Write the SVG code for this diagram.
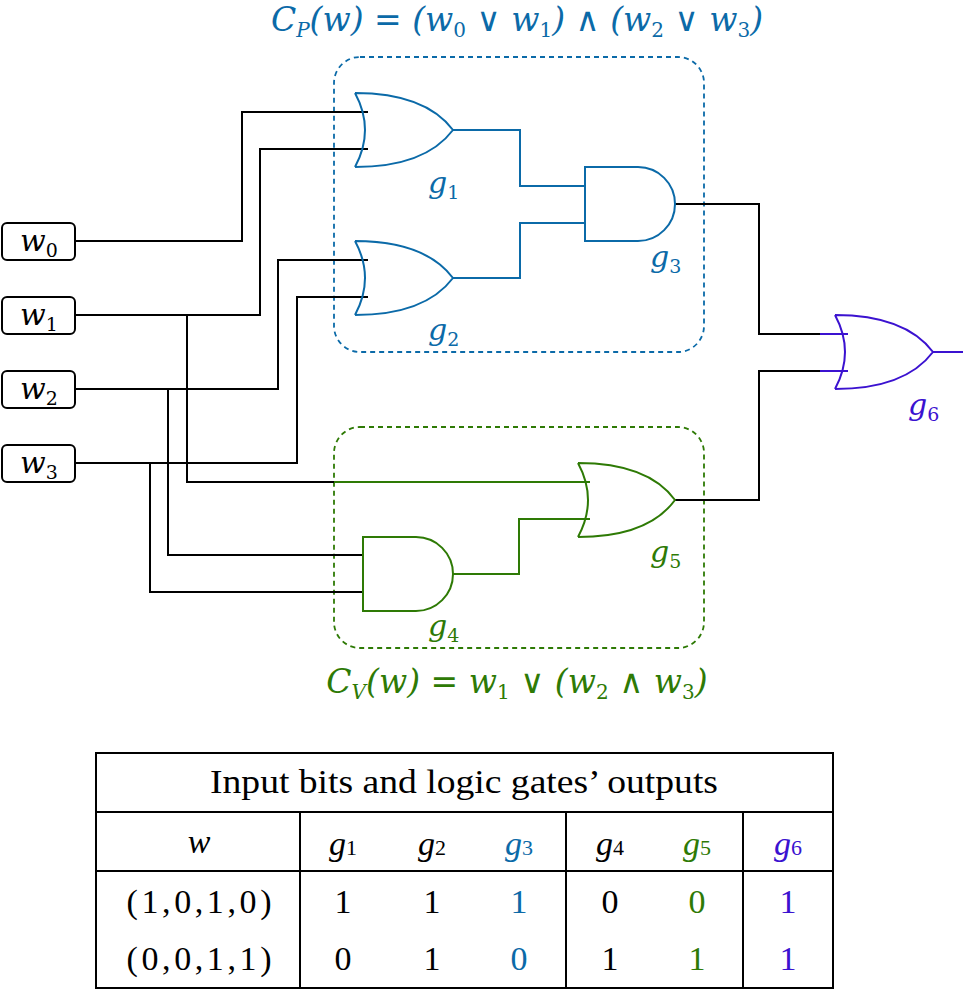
<svg xmlns="http://www.w3.org/2000/svg" width="963" height="990" viewBox="0 0 963 990">
<style>
.w{fill:none;stroke:#000;stroke-width:2}
.b{fill:none;stroke:#0b6aa8;stroke-width:2}
.g{fill:none;stroke:#2e7a05;stroke-width:2}
.p{fill:none;stroke:#3b12d0;stroke-width:2}
.m{font-family:"DejaVu Serif",serif;font-style:italic;font-size:30px}
.h{font-size:33px}
.t{font-family:"Liberation Serif",serif;font-size:34px;text-anchor:middle}
.bc{fill:#0b6aa8}.gc{fill:#2e7a05}.pc{fill:#3b12d0}
.box{fill:#fff;stroke:#000;stroke-width:2}
</style>
<text class="m h bc" x="517" y="31" text-anchor="middle">C<tspan font-size="20" dy="6">P</tspan><tspan dy="-6">(w) = (w</tspan><tspan font-size="20" dy="6" font-style="normal">0</tspan><tspan dy="-6"> ∨ w</tspan><tspan font-size="20" dy="6" font-style="normal">1</tspan><tspan dy="-6">) ∧ (w</tspan><tspan font-size="20" dy="6" font-style="normal">2</tspan><tspan dy="-6"> ∨ w</tspan><tspan font-size="20" dy="6" font-style="normal">3</tspan><tspan dy="-6">)</tspan></text>
<text class="m h gc" x="517" y="693" text-anchor="middle">C<tspan font-size="20" dy="6">V</tspan><tspan dy="-6">(w) = w</tspan><tspan font-size="20" dy="6" font-style="normal">1</tspan><tspan dy="-6"> ∨ (w</tspan><tspan font-size="20" dy="6" font-style="normal">2</tspan><tspan dy="-6"> ∧ w</tspan><tspan font-size="20" dy="6" font-style="normal">3</tspan><tspan dy="-6">)</tspan></text>
<rect x="334" y="57" width="370" height="295" rx="26" fill="none" stroke="#0b6aa8" stroke-width="1.8" stroke-dasharray="5,4"/>
<rect x="334" y="427" width="370" height="221" rx="26" fill="none" stroke="#2e7a05" stroke-width="1.8" stroke-dasharray="5,4"/>
<g id="connectors">
<path class="w" d="M75,241H242V112H368"/>
<path class="w" d="M75,315H260V149H368"/>
<path class="w" d="M75,389H278V260H368"/>
<path class="w" d="M75,463H297V297H368"/>
<path class="w" d="M187,315V482H334"/>
<path class="g" d="M334,482H590"/>
<path class="w" d="M168,389V555H363"/>
<path class="w" d="M150,463V592H363"/>
<path class="b" d="M453,130H520V186H585"/>
<path class="b" d="M453,278H520V223H585"/>
<path class="g" d="M453,574H519V519H590"/>
<path class="w" d="M675,204H759V334H820"/>
<path class="w" d="M675,500H759V371H820"/>
<path class="p" d="M820,334H848M820,371H848M933,352H963"/>
</g>
<g id="w0"><rect class="box" x="2" y="223" width="73" height="37" rx="5"/><text class="m" x="20" y="251">w<tspan font-size="19" dy="6" font-style="normal">0</tspan></text></g>
<g id="w1"><rect class="box" x="2" y="297" width="73" height="37" rx="5"/><text class="m" x="20" y="325">w<tspan font-size="19" dy="6" font-style="normal">1</tspan></text></g>
<g id="w2"><rect class="box" x="2" y="371" width="73" height="37" rx="5"/><text class="m" x="20" y="399">w<tspan font-size="19" dy="6" font-style="normal">2</tspan></text></g>
<g id="w3"><rect class="box" x="2" y="445" width="73" height="37" rx="5"/><text class="m" x="20" y="473">w<tspan font-size="19" dy="6" font-style="normal">3</tspan></text></g>
<g id="g1"><path class="b" d="M355,93Q375,130 355,167M355,93Q425,93 453,130Q425,167 355,167"/><text class="m bc" x="428" y="193">g<tspan font-size="19" dy="6" font-style="normal">1</tspan></text></g>
<g id="g2"><path class="b" d="M355,241Q375,278 355,315M355,241Q425,241 453,278Q425,315 355,315"/><text class="m bc" x="428" y="340">g<tspan font-size="19" dy="6" font-style="normal">2</tspan></text></g>
<g id="g3"><path class="b" d="M585,167H638A37,37 0 0 1 638,241H585Z"/><text class="m bc" x="650" y="267">g<tspan font-size="19" dy="6" font-style="normal">3</tspan></text></g>
<g id="g4"><path class="g" d="M363,537H416A37,37 0 0 1 416,611H363Z"/><text class="m gc" x="428" y="636">g<tspan font-size="19" dy="6" font-style="normal">4</tspan></text></g>
<g id="g5"><path class="g" d="M578,463Q598,500 578,537M578,463Q648,463 675,500Q648,537 578,537"/><text class="m gc" x="650" y="562">g<tspan font-size="19" dy="6" font-style="normal">5</tspan></text></g>
<g id="g6"><path class="p" d="M835,315Q855,352 835,389M835,315Q905,315 933,352Q905,389 835,389"/><text class="m pc" x="908" y="415">g<tspan font-size="19" dy="6" font-style="normal">6</tspan></text></g>
<g id="table">
<rect x="96" y="753" width="737" height="235" fill="none" stroke="#000" stroke-width="2"/>
<path class="w" d="M96,812H833M96,871H833M300,812V988M566,812V988M743,812V988"/>
<text class="t" x="464" y="793" textLength="508" lengthAdjust="spacingAndGlyphs">Input bits and logic gates’ outputs</text>
<text class="t" x="199" y="853" font-style="italic">w</text>
<text class="t" x="343" y="855" font-style="italic">g<tspan font-size="22" font-style="normal">1</tspan></text>
<text class="t" x="432" y="855" font-style="italic">g<tspan font-size="22" font-style="normal">2</tspan></text>
<text class="t bc" x="519" y="855" font-style="italic">g<tspan font-size="22" font-style="normal">3</tspan></text>
<text class="t" x="610" y="855" font-style="italic">g<tspan font-size="22" font-style="normal">4</tspan></text>
<text class="t gc" x="697" y="855" font-style="italic">g<tspan font-size="22" font-style="normal">5</tspan></text>
<text class="t pc" x="788" y="855" font-style="italic">g<tspan font-size="22" font-style="normal">6</tspan></text>
<text class="t" x="199" y="913" textLength="145">(1,0,1,0)</text>
<text class="t" x="343" y="913">1</text><text class="t" x="432" y="913">1</text><text class="t bc" x="519" y="913">1</text>
<text class="t" x="610" y="913">0</text><text class="t gc" x="697" y="913">0</text><text class="t pc" x="788" y="913">1</text>
<text class="t" x="199" y="970" textLength="145">(0,0,1,1)</text>
<text class="t" x="343" y="970">0</text><text class="t" x="432" y="970">1</text><text class="t bc" x="519" y="970">0</text>
<text class="t" x="610" y="970">1</text><text class="t gc" x="697" y="970">1</text><text class="t pc" x="788" y="970">1</text>
</g>
</svg>
